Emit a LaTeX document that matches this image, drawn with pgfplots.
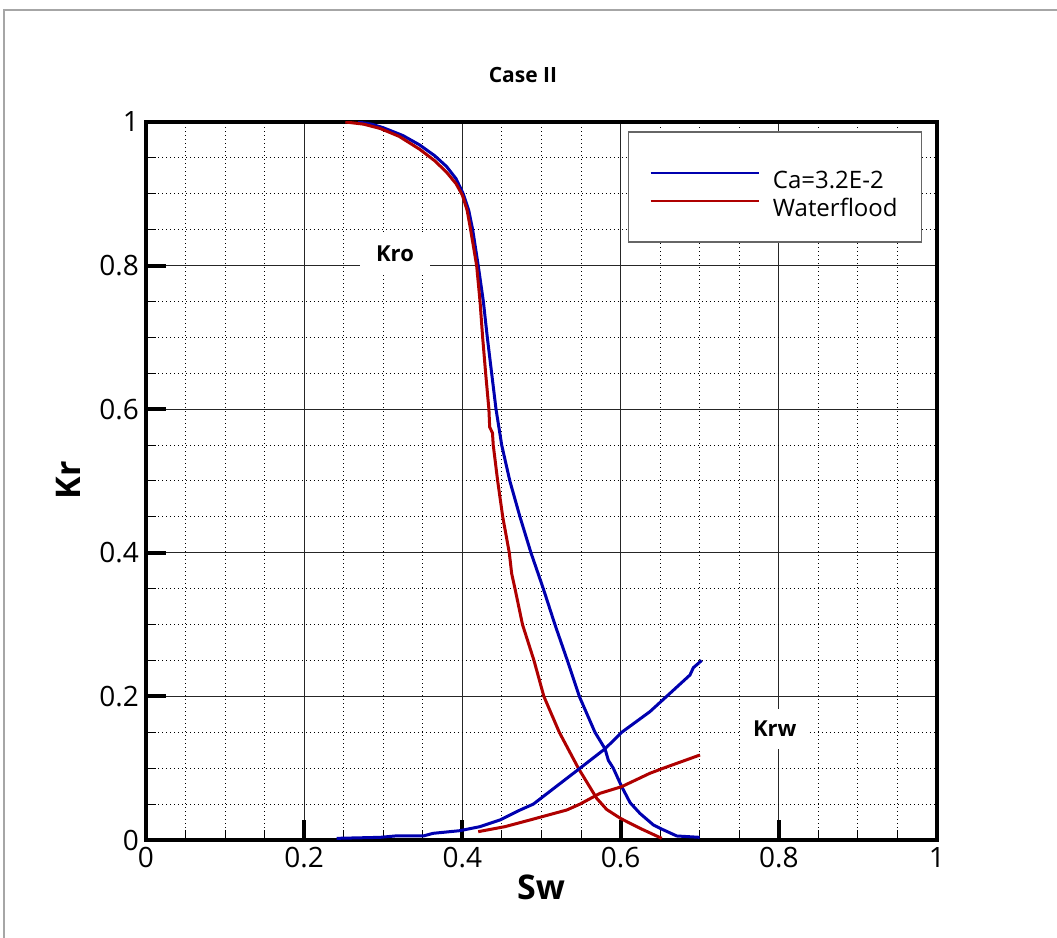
\documentclass[border=0pt]{standalone}
\usepackage{pgfplots}
\pgfplotsset{compat=1.18}
\usepackage{fontspec}
\setmainfont{Open Sans}
\definecolor{cablue}{RGB}{0,0,175}
\definecolor{wfred}{RGB}{175,0,0}
\begin{document}
\begin{tikzpicture}
\path[use as bounding box] (0pt,0pt) rectangle (528.5pt,469pt);
\draw[gray!70, line width=0.6pt] (2pt,0pt) -- (2pt,464pt) -- (528.5pt,464pt);
\begin{axis}[
  at={(73pt,49pt)}, anchor=south west,
  scale only axis, width=395.5pt, height=359pt,
  xmin=0, xmax=1, ymin=0, ymax=1,
  xtick={0,0.2,0.4,0.6,0.8,1}, ytick={0,0.2,0.4,0.6,0.8,1},
  xticklabels={0,0.2,0.4,0.6,0.8,1}, yticklabels={0,0.2,0.4,0.6,0.8,1},
  minor tick num=3,
  tick pos=left, tick align=inside,
  major tick length=10pt, minor tick length=5pt,
  every major tick/.append style={line width=2pt, black},
  every minor tick/.append style={line width=0.5pt, black},
  grid=both,
  major grid style={line width=0.5pt, black!85},
  minor grid style={line width=0.5pt, black, dash pattern=on 0.6pt off 1.4pt},
  axis line style={line width=2pt},
  /pgf/number format/assume math mode=true,
  ticklabel style={font=\fontsize{14}{16}\selectfont},
  legend style={at={(rel axis cs:0.609,0.9875)}, anchor=north west,
    draw=gray!80!black, line width=0.8pt, fill=white,
    font=\fontsize{12}{14}\selectfont,
    inner xsep=10.5pt, inner ysep=11pt, row sep=-5pt,
    nodes={inner sep=1.5pt, text height=16pt, text depth=0pt},
    /tikz/every odd column/.append style={column sep=5pt}},
  legend cell align=left,
  legend image code/.code={\draw[#1, line width=1.2pt] (0pt,0pt) -- (54pt,0pt);},
]
\addplot[cablue, line width=1.5pt] coordinates {
(0.268,1.000) (0.285,0.997) (0.300,0.992) (0.325,0.981) (0.346,0.968)
(0.365,0.953) (0.380,0.938) (0.392,0.921) (0.401,0.900) (0.408,0.877)
(0.413,0.850) (0.420,0.800) (0.4265,0.750) (0.4315,0.700) (0.437,0.650)
(0.4425,0.600) (0.4497,0.550) (0.460,0.500) (0.4728,0.450) (0.4867,0.400)
(0.5023,0.350) (0.517,0.300) (0.5327,0.250) (0.5478,0.200) (0.5676,0.150)
(0.5803,0.127) (0.5845,0.111) (0.5908,0.100) (0.6014,0.0743) (0.612,0.052)
(0.6245,0.037) (0.6414,0.0210) (0.650,0.0162) (0.671,0.0056) (0.700,0.0037)};
\addlegendentry{Ca=3.2E-2}
\addplot[wfred, line width=1.5pt] coordinates {
(0.252,1.000) (0.275,0.997) (0.296,0.991) (0.320,0.980) (0.346,0.962)
(0.365,0.946) (0.380,0.930) (0.392,0.914) (0.400,0.898) (0.406,0.877)
(0.4104,0.850) (0.418,0.800) (0.4223,0.750) (0.4256,0.700) (0.4294,0.650)
(0.4335,0.600) (0.4345,0.575) (0.438,0.567) (0.439,0.550) (0.4446,0.500)
(0.451,0.450) (0.4593,0.400) (0.4623,0.371) (0.4665,0.350) (0.476,0.300)
(0.4905,0.250) (0.503,0.200) (0.5225,0.150) (0.5466,0.100) (0.5698,0.058)
(0.5824,0.0425) (0.600,0.030) (0.6245,0.0163) (0.652,0.0023)};
\addlegendentry{Waterflood}
\addplot[cablue, line width=1.5pt, forget plot] coordinates {
(0.241,0.0023) (0.296,0.0037) (0.315,0.0056) (0.3506,0.0056) (0.363,0.0093)
(0.397,0.013) (0.4223,0.0186) (0.4475,0.0279) (0.473,0.0418) (0.4897,0.050)
(0.5487,0.100) (0.5803,0.127) (0.6014,0.150) (0.637,0.1787) (0.6582,0.200)
(0.6877,0.2298) (0.692,0.240) (0.7025,0.250)};
\addplot[wfred, line width=1.5pt, forget plot] coordinates {
(0.420,0.0116) (0.4539,0.0186) (0.4855,0.0279) (0.532,0.0418) (0.5487,0.050)
(0.5739,0.065) (0.6014,0.0743) (0.637,0.0929) (0.654,0.100) (0.7004,0.1184)};
\node[fill=white, inner xsep=8pt, inner ysep=6pt, font=\fontsize{11}{13}\selectfont\bfseries] at (axis cs:0.3148,0.816) {Kro};
\node[fill=white, inner xsep=6pt, inner ysep=6pt, font=\fontsize{11}{13}\selectfont\bfseries] at (axis cs:0.795,0.1546) {Krw};
\end{axis}
\node[font=\fontsize{10.5}{12}\selectfont\bfseries] at (261.5pt,431.5pt) {Case II};
\node[font=\fontsize{17}{20}\selectfont\bfseries] at (270.5pt,25.5pt) {Sw};
\node[font=\fontsize{17}{20}\selectfont\bfseries, rotate=90] at (34pt,229pt) {Kr};
\end{tikzpicture}
\end{document}
